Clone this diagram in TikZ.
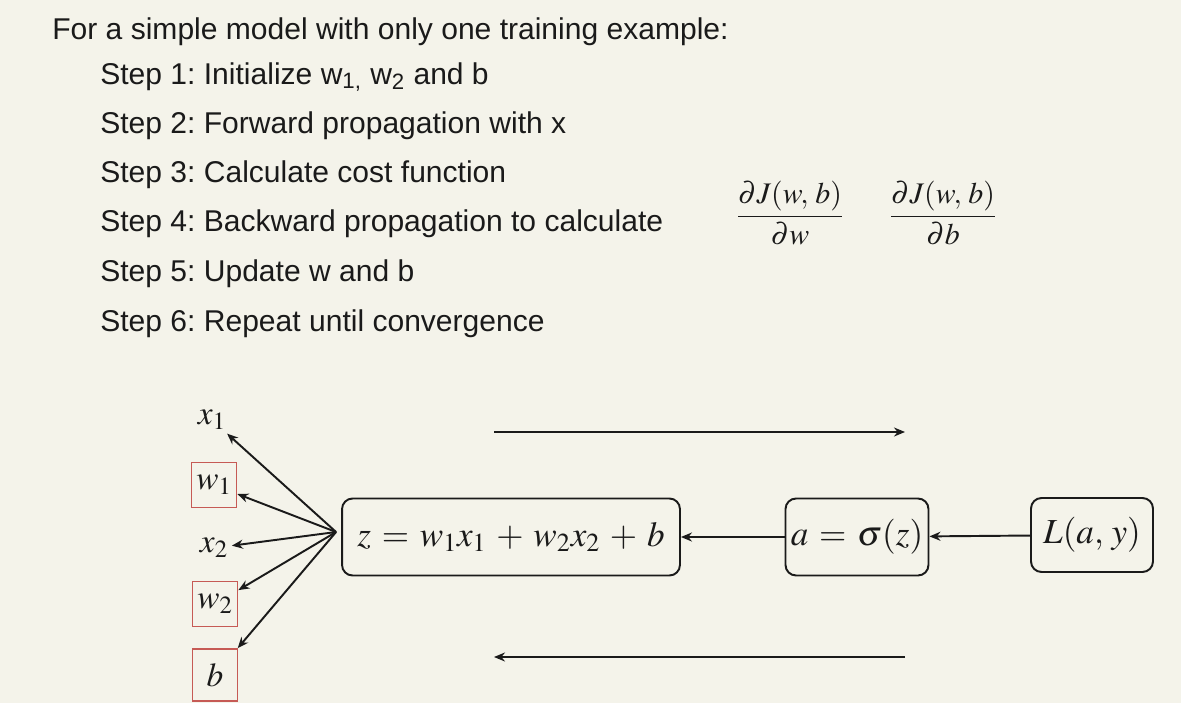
\documentclass[tikz,border=0pt]{standalone}
\usepackage{mathptmx}
\usepackage[no-math]{fontspec}
\setmainfont{Liberation Sans}
\usetikzlibrary{arrows.meta,positioning,calc}
\frenchspacing
\definecolor{SlideBg}{HTML}{F4F3EA}
\definecolor{SlideInk}{HTML}{1A1A1A}
\definecolor{ParamRed}{HTML}{C65A55}
\tikzset{
  steptext/.style={anchor=base west, inner sep=0pt, text=SlideInk,
                   font=\fontsize{17.1}{20}\selectfont},
  gradtext/.style={inner sep=0pt, text=SlideInk, font=\fontsize{17}{20}\selectfont},
  mathbox/.style={draw=SlideInk, rounded corners=6pt, line width=1.1pt,
                  fill=SlideBg, text=SlideInk, align=center, inner sep=2pt,
                  font=\fontsize{20}{24}\selectfont, minimum height=1.54cm},
  parambox/.style={draw=ParamRed, line width=1pt, text=SlideInk,
                   font=\fontsize{19}{22}\selectfont, minimum size=0.9cm, inner sep=1pt},
  inputtext/.style={text=SlideInk, font=\fontsize{19}{22}\selectfont, inner sep=2pt},
  arrow/.style={-{Stealth[length=2.2mm,width=1.8mm]}, line width=1.1pt, SlideInk},
}
\begin{document}
\begin{tikzpicture}[x=0.02cm, y=-0.02cm]
  \fill[SlideBg] (0,0) rectangle (1181,703);
  \useasboundingbox (0,0) rectangle (1181,703);
  \medmuskip=5mu plus 2mu minus 2mu
  \thickmuskip=5.5mu plus 3mu

  % the six steps
  \node[steptext] (title) at (52,39) {For a simple model with only one training example:};
  \node[steptext] (s1) at (100,84)  {Step 1: Initialize w\textsubscript{1,} w\textsubscript{2} and b};
  \node[steptext] (s2) at (100,133) {Step 2: Forward propagation with x};
  \node[steptext] (s3) at (100,182) {Step 3: Calculate cost function};
  \node[steptext] (s4) at (100,231) {Step 4: Backward propagation to calculate};
  \node[steptext] (s5) at (100,281) {Step 5: Update w and b};
  \node[steptext] (s6) at (100,331) {Step 6: Repeat until convergence};

  % gradients
  \node[gradtext] (dJdw) at (790,213) {$\displaystyle\frac{\partial J(w,\,b)}{\partial w}$};
  \node[gradtext] (dJdb) at (943,213) {$\displaystyle\frac{\partial J(w,\,b)}{\partial b}$};

  % computation graph
  \node[mathbox, minimum width=6.76cm] (zbox) at (511,537) {$z = w_1x_1 + w_2x_2 + b$};
  \node[mathbox, minimum width=2.86cm] (abox) at (857,537) {$a = \sigma(z)$};
  \node[mathbox, minimum width=2.44cm, minimum height=1.48cm] (lbox) at (1092,535) {$L(a,\,y)$};

  \node[inputtext] (x1) at (212,420) {$x_1$};
  \node[parambox] (w1) at (214,485) {$w_1$};
  \node[inputtext] (x2) at (214,548) {$x_2$};
  \node[parambox] (w2) at (215,604) {$w_2$};
  \node[parambox, minimum height=1.04cm] (b) at (215,675) {$b$};

  \coordinate (zsrc) at ($(zbox.west)+(-5,-5)$);
  \foreach \p in {x1,w1,x2,w2,b}
    \draw[arrow] (zsrc) -- (\p);

  \draw[arrow] (lbox) -- (abox);
  \draw[arrow] (abox) -- (zbox);

  % forward / backward direction
  \coordinate (fwdL) at (494,432);
  \coordinate (fwdR) at (905,432);
  \coordinate (bwdL) at (494,657);
  \coordinate (bwdR) at (905,657);
  \draw[arrow] (fwdL) -- (fwdR);
  \draw[arrow] (bwdR) -- (bwdL);
\end{tikzpicture}
\end{document}
